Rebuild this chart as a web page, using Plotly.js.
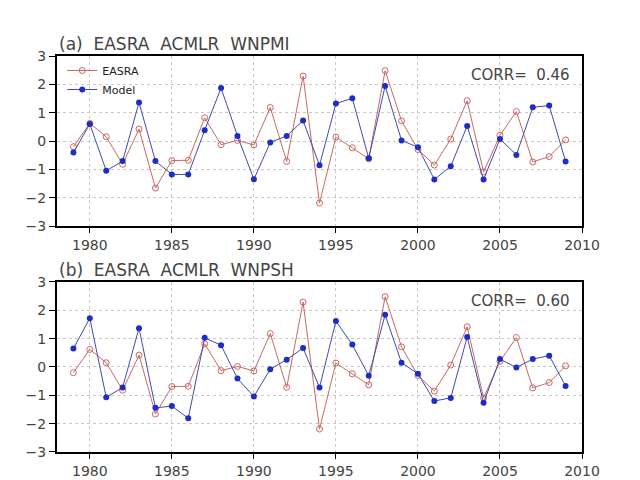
<!DOCTYPE html>
<html>
<head>
<meta charset="utf-8">
<script src="https://cdn.plot.ly/plotly-3.0.1.min.js"></script>
<style>html,body{margin:0;padding:0;background:#fff}#chart{width:640px;height:480px}</style>
</head>
<body>
<div id="chart"></div>
<script>
const years = [1979,1980,1981,1982,1983,1984,1985,1986,1987,1988,1989,1990,1991,1992,1993,1994,1995,1996,1997,1998,1999,2000,2001,2002,2003,2004,2005,2006,2007,2008,2009];
const easra = [-0.20,0.62,0.15,-0.82,0.42,-1.66,-0.69,-0.68,0.82,-0.13,0.02,-0.14,1.18,-0.72,2.29,-2.19,0.14,-0.24,-0.63,2.48,0.71,-0.30,-0.85,0.07,1.42,-1.09,0.20,1.04,-0.74,-0.55,0.04];
const modelWNPMI = [-0.41,0.60,-1.05,-0.71,1.36,-0.71,-1.18,-1.18,0.38,1.87,0.18,-1.35,-0.05,0.18,0.72,-0.86,1.32,1.51,-0.61,1.94,0.02,-0.22,-1.36,-0.89,0.53,-1.36,0.07,-0.49,1.19,1.25,-0.72];
const modelWNPSH = [0.65,1.72,-1.07,-0.72,1.37,-1.44,-1.38,-1.81,1.03,0.77,-0.41,-1.04,-0.08,0.26,0.67,-0.72,1.62,0.79,-0.31,1.84,0.15,-0.24,-1.20,-1.09,1.06,-1.26,0.28,-0.02,0.28,0.40,-0.67];
const titles = ["(a)  EASRA  ACMLR  WNPMI", "(b)  EASRA  ACMLR  WNPSH"];
const corrLabels = ["CORR=  0.46", "CORR=  0.60"];
const xTicks = [1980,1985,1990,1995,2000,2005,2010];
const yTicks = [-3,-2,-1,0,1,2,3];

const redC = 'rgb(200,105,100)';
const blueLine = 'rgb(65,75,175)';
const blueMk = 'rgb(30,45,200)';
const FAM = 'DejaVu Sans, Liberation Sans, Arial, sans-serif';

function easraTrace(xa, ya, show){
  return {x: years, y: easra, xaxis: xa, yaxis: ya, type: 'scatter', mode: 'lines+markers', name: 'EASRA', showlegend: show,
    line: {color: redC, width: 1}, marker: {symbol: 'circle-open', size: 6, color: redC, line: {width: 1, color: redC}}};
}
function modelTrace(vals, xa, ya, show){
  return {x: years, y: vals, xaxis: xa, yaxis: ya, type: 'scatter', mode: 'lines+markers', name: 'Model', showlegend: show,
    line: {color: blueLine, width: 1}, marker: {symbol: 'circle', size: 6, color: blueMk}};
}
const data = [
  easraTrace('x','y',true), modelTrace(modelWNPMI,'x','y',true),
  easraTrace('x2','y2',false), modelTrace(modelWNPSH,'x2','y2',false)
];
const fnt = {family: FAM, size: 14, color: '#444'};
function xax(anchor){
  return {anchor: anchor, range: [1978, 2010], tickvals: xTicks, ticktext: xTicks.map(String), ticks: 'outside', ticklen: 5, tickcolor: '#000',
    showline: true, mirror: true, linecolor: '#000', linewidth: 2, showgrid: true, gridcolor: '#c8c8c8', griddash: 'dot', gridwidth: 1,
    zeroline: false, tickfont: fnt};
}
function yax(anchor, dom){
  return {anchor: anchor, domain: dom, range: [-3, 3], tickvals: yTicks, ticks: 'outside', ticklen: 6, tickcolor: '#000',
    showline: true, mirror: true, linecolor: '#000', linewidth: 2, showgrid: true, gridcolor: '#c8c8c8', griddash: 'dot', gridwidth: 1,
    zeroline: false, tickfont: fnt};
}
const layout = {
  width: 640, height: 480, paper_bgcolor: '#fff', plot_bgcolor: '#fff',
  margin: {l: 57, r: 58, t: 56, b: 28},
  xaxis: xax('y'), yaxis: yax('x', [0.5707, 1]),
  xaxis2: xax('y2'), yaxis2: yax('x2', [0, 0.4293]),
  showlegend: true,
  legend: {x: 0.01, y: 1.0, xanchor: 'left', yanchor: 'top', bgcolor: 'rgba(0,0,0,0)', font: {family: FAM, size: 11, color: '#222'}, tracegroupgap: 0, itemwidth: 30},
  annotations: [
    {text: titles[0], xref: 'x domain', yref: 'y domain', x: 0, y: 1, xanchor: 'left', yanchor: 'bottom', yshift: 0, showarrow: false, font: {family: FAM, size: 17, color: '#444'}},
    {text: titles[1], xref: 'x2 domain', yref: 'y2 domain', x: 0, y: 1, xanchor: 'left', yanchor: 'bottom', yshift: 0, showarrow: false, font: {family: FAM, size: 17, color: '#444'}},
    {text: corrLabels[0], xref: 'x domain', yref: 'y domain', x: 0.98, y: 0.89, xanchor: 'right', yanchor: 'middle', showarrow: false, font: {family: FAM, size: 15, color: '#444'}},
    {text: corrLabels[1], xref: 'x2 domain', yref: 'y2 domain', x: 0.98, y: 0.89, xanchor: 'right', yanchor: 'middle', showarrow: false, font: {family: FAM, size: 15, color: '#444'}}
  ]
};
Plotly.newPlot('chart', data, layout, {displayModeBar: false, staticPlot: true});
</script>
</body>
</html>
